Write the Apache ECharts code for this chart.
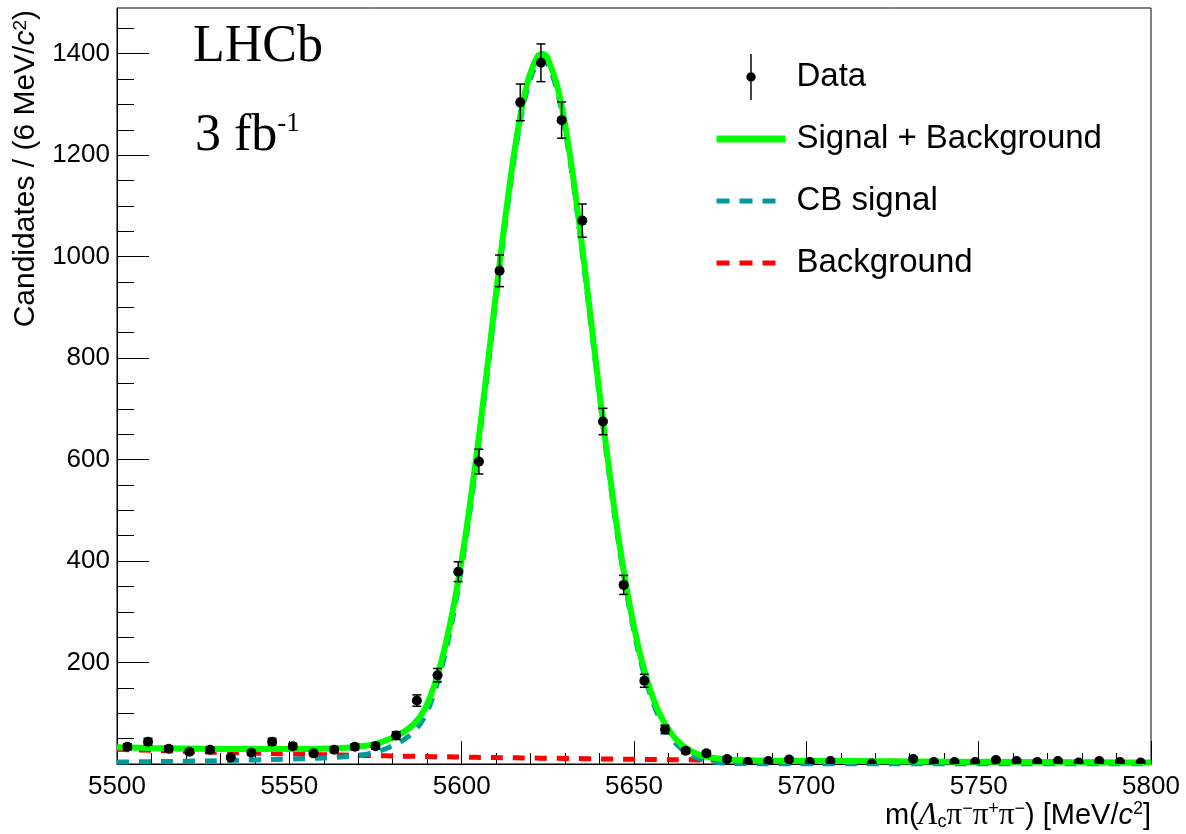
<!DOCTYPE html>
<html>
<head>
<meta charset="utf-8">
<script src="https://cdn.jsdelivr.net/npm/echarts@6/dist/echarts.min.js"></script>
<style>
html,body{margin:0;padding:0;background:#fff;}
#chart{width:1186px;height:834px;}
</style>
</head>
<body>
<div id="chart"></div>
<script>
// ---- data ----
const binCenters = [5503,5509,5515,5521,5527,5533,5539,5545,5551,5557,5563,5569,5575,5581,5587,5593,5599,5605,5611,5617,5623,5629,5635,5641,5647,5653,5659,5665,5671,5677,5683,5689,5695,5701,5707,5713,5719,5725,5731,5737,5743,5749,5755,5761,5767,5773,5779,5785,5791,5797];
const counts = [34,44,30,24,28,13,22,44,35,21,28,34,35,56,125,175,379,596,972,1304,1382,1269,1071,675,353,164,68,26,21,10,4,6,9,4,6,0,1,0,10,4,4,4,8,6,4,6,3,6,4,3];

const curveMass = [5500,5510,5520,5530,5540,5550,5560,5565,5570,5575,5580,5583,5586,5589,5592,5595,5598,5601,5604,5607,5610,5613,5616,5619,5622,5623.5,5625,5628,5631,5634,5637,5640,5643,5646,5649,5652,5655,5658,5661,5664,5667,5670,5675,5680,5685,5690,5700,5710,5720,5730,5740,5750,5760,5770,5780,5790,5800];
const curveTotal = [33,31.4,30.4,29.6,29.4,29.4,30.4,31.7,34.1,39.5,51.8,62.5,78.1,104.8,153.5,226.2,322.9,445.5,592.2,756.9,929.6,1094.4,1237.1,1340.8,1394.6,1399.5,1390.3,1329.1,1218.8,1071.6,904.3,732,568.8,423.6,304.4,210.2,140,90.8,58.6,36.9,23.9,16.3,10.3,8.1,7.3,6.8,6.4,5.9,5.5,5.1,4.7,4.4,4.0,3.8,3.5,3.2,3.0];
const curveSignal = [4,4.5,5.5,6.5,8,9.5,12,14,17,23,36,47,63,90,139,212,309,432,579,744,917,1082,1225,1329,1383,1388,1379,1318,1208,1061,894,722,559,414,295,201,131,82,50,28.5,15.7,8.3,2.6,0.7,0.2,0,0,0,0,0,0,0,0,0,0,0,0];
const curveBackground = [29,26.9,24.9,23.1,21.4,19.9,18.4,17.7,17.1,16.5,15.8,15.5,15.1,14.8,14.5,14.2,13.9,13.5,13.2,12.9,12.6,12.4,12.1,11.8,11.6,11.5,11.3,11.1,10.8,10.6,10.3,10.0,9.8,9.6,9.4,9.2,9.0,8.8,8.6,8.4,8.2,8.0,7.7,7.4,7.1,6.8,6.4,5.9,5.5,5.1,4.7,4.4,4.0,3.8,3.5,3.2,3.0];

const yMajorTicks = [0,200,400,600,800,1000,1200,1400];
const yLabelTicks = [200,400,600,800,1000,1200,1400];
const yMinorTicks = [50,100,150,250,300,350,450,500,550,650,700,750,850,900,950,1050,1100,1150,1250,1300,1350,1450];

const legendNames = ['Data','Signal + Background','CB signal','Background'];

// ---- build ----
const SANS = 'Liberation Sans';
const SERIF = 'Liberation Serif';
const pair = (xs, ys) => xs.map((x, i) => [x, ys[i]]);
const dataPoints = binCenters
  .map((m, i) => [m, counts[i], Math.sqrt(counts[i])])
  .filter(d => d[1] > 0);
const plain = v => String(v);

function richFor(size) {
  return {
    n: {fontSize: size, fontFamily: SANS, color: '#000'},
    i: {fontSize: size, fontFamily: SANS, fontStyle: 'italic', color: '#000'},
    sp: {fontSize: Math.round(size * 0.62), fontFamily: SANS, color: '#000', verticalAlign: 'top'},
    sb: {fontSize: Math.round(size * 0.62), fontFamily: SANS, color: '#000', verticalAlign: 'bottom'},
    L: {fontSize: size + 2, fontFamily: SERIF, fontStyle: 'italic', color: '#000'},
    p: {fontSize: size + 2, fontFamily: SERIF, color: '#000'}
  };
}

const chart = echarts.init(document.getElementById('chart'), null, {renderer: 'canvas'});
chart.setOption({
  animation: false,
  backgroundColor: '#fff',
  grid: {left: 117, right: 35, top: 8, bottom: 70, show: true, borderColor: '#000', borderWidth: 1, outerBoundsMode: 'none'},
  legend: {
    orient: 'vertical', left: 713, top: 54, padding: 0,
    itemGap: 16, itemWidth: 69, itemHeight: 46, selectedMode: false,
    textStyle: {fontSize: 33, fontFamily: SANS, color: '#000', lineHeight: 46, padding: [0, 0, 0, 6]},
    data: [
      {name: legendNames[0], icon: 'path://M4.3,0 L5.7,0 L5.7,44 L4.3,44 Z M5,17.5 A4.5,4.5 0 1,1 5,26.5 A4.5,4.5 0 1,1 5,17.5 Z',
       itemStyle: {color: '#000', borderWidth: 0}},
      {name: legendNames[1], itemStyle: {color: 'rgba(0,0,0,0)', borderColor: 'rgba(0,0,0,0)', borderWidth: 0},
       lineStyle: {color: '#00ff00', width: 7, type: 'solid'}},
      {name: legendNames[2], itemStyle: {color: 'rgba(0,0,0,0)', borderColor: 'rgba(0,0,0,0)', borderWidth: 0},
       lineStyle: {color: '#009a9a', width: 5, type: [13, 10]}},
      {name: legendNames[3], itemStyle: {color: 'rgba(0,0,0,0)', borderColor: 'rgba(0,0,0,0)', borderWidth: 0},
       lineStyle: {color: '#ff0000', width: 5, type: [13, 10]}}
    ]
  },
  xAxis: [{
    type: 'value', min: 5500, max: 5800, interval: 50,
    axisLine: {show: true, lineStyle: {color: '#000', width: 1}},
    axisTick: {show: true, inside: true, length: 23, lineStyle: {color: '#000', width: 1}},
    minorTick: {show: true, splitNumber: 5, length: 11, lineStyle: {color: '#000', width: 1}},
    axisLabel: {color: '#000', fontSize: 26, fontFamily: SANS, margin: 10, formatter: plain},
    splitLine: {show: false}, minorSplitLine: {show: false},
    name: '{n|m(}{L|Λ}{sb|c}{p|π}{sp|−}{p|π}{sp|+}{p|π}{sp|−}{n|) [MeV/}{i|c}{sp|2}{n|]}',
    nameLocation: 'end', nameGap: 0, nameMoveOverlap: false,
    nameTextStyle: {align: 'right', verticalAlign: 'top', padding: [36, 0, 0, 0], rich: richFor(29)}
  }],
  yAxis: [{
    type: 'value', min: 0, max: 1490,
    axisLine: {show: true, lineStyle: {color: '#000', width: 1}},
    axisTick: {show: true, inside: true, length: 32, customValues: yMajorTicks, lineStyle: {color: '#000', width: 1}},
    axisLabel: {customValues: yLabelTicks, color: '#000', fontSize: 26, fontFamily: SANS, margin: 7, formatter: plain},
    splitLine: {show: false},
    name: '{n|Candidates / (6 MeV/}{i|c}{sp|2}{n|)}',
    nameLocation: 'end', nameRotate: 90, nameGap: -2, nameMoveOverlap: false,
    nameTextStyle: {align: 'right', verticalAlign: 'bottom', padding: [0, 0, 76, 0], rich: richFor(30)}
  }, {
    type: 'value', min: 0, max: 1490, position: 'left',
    axisLine: {show: false},
    axisTick: {show: true, inside: true, length: 17, customValues: yMinorTicks, lineStyle: {color: '#000', width: 1}},
    axisLabel: {show: false},
    splitLine: {show: false}
  }],
  series: [
    {
      name: legendNames[3], type: 'line', data: pair(curveMass, curveBackground), z: 2,
      symbol: 'none', showSymbol: false, smooth: 0.4,
      lineStyle: {color: '#ff0000', width: 5, type: [12, 10]}, itemStyle: {color: '#ff0000'}
    },
    {
      name: legendNames[2], type: 'line', data: pair(curveMass, curveSignal), z: 3,
      symbol: 'none', showSymbol: false, smooth: 0.4,
      lineStyle: {color: '#009a9a', width: 5, type: [12, 10]}, itemStyle: {color: '#009a9a'}
    },
    {
      name: legendNames[1], type: 'line', data: pair(curveMass, curveTotal), z: 4,
      symbol: 'none', showSymbol: false, smooth: 0.4,
      lineStyle: {color: '#00ff00', width: 6}, itemStyle: {color: '#00ff00'}
    },
    {
      name: legendNames[0], type: 'custom', data: dataPoints, z: 10,
      encode: {x: 0, y: 1}, itemStyle: {color: '#000'}, clip: true,
      renderItem: function (params, api) {
        const x = api.value(0), y = api.value(1), e = api.value(2);
        const c = api.coord([x, y]);
        const lo = api.coord([x, y - e]);
        const hi = api.coord([x, y + e]);
        const cap = 4.5;
        const ls = {stroke: '#000', lineWidth: 1.5};
        return {
          type: 'group',
          children: [
            {type: 'line', shape: {x1: c[0], y1: lo[1], x2: c[0], y2: hi[1]}, style: ls},
            {type: 'line', shape: {x1: c[0] - cap, y1: hi[1], x2: c[0] + cap, y2: hi[1]}, style: ls},
            {type: 'line', shape: {x1: c[0] - cap, y1: lo[1], x2: c[0] + cap, y2: lo[1]}, style: ls},
            {type: 'circle', shape: {cx: c[0], cy: c[1], r: 5}, style: {fill: '#000'}}
          ]
        };
      }
    }
  ],
  graphic: [
    {type: 'text', x: 193, y: 47, style: {text: 'LHCb', font: '52px "Liberation Serif"', fill: '#000', verticalAlign: 'middle'}},
    {type: 'text', x: 195, y: 136, style: {
      text: '{a|3 fb}{s|-1}', verticalAlign: 'middle', fill: '#000',
      rich: {a: {fontSize: 52, fontFamily: SERIF, color: '#000'}, s: {fontSize: 27, fontFamily: SERIF, color: '#000', verticalAlign: 'top'}}
    }}
  ]
});
</script>
</body>
</html>
